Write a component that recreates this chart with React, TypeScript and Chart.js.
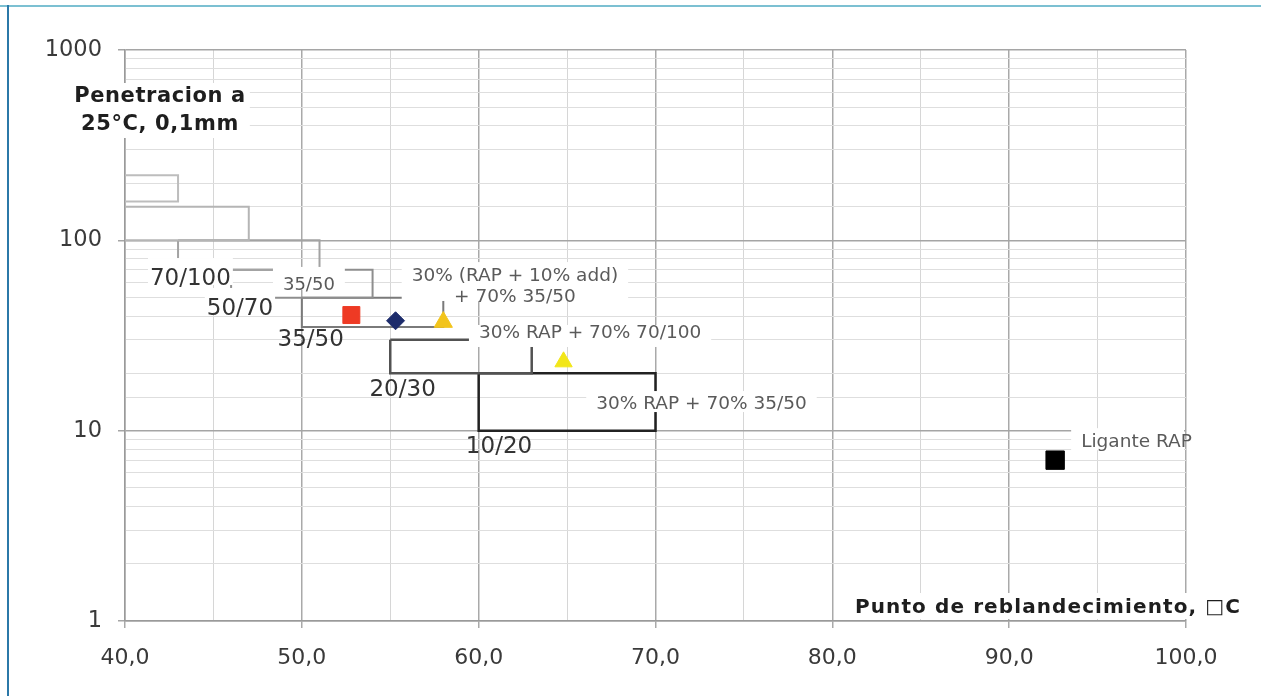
import React, { useEffect, useRef } from 'react';
import { Chart, registerables } from 'chart.js';

Chart.register(...registerables);

// ---- Data ----
const gradeNames = ['160/220', '100/150', '70/100', '50/70', '35/50', '20/30', '10/20'];
const gradeSpMin = [35, 39, 43, 46, 50, 55, 60];
const gradeSpMax = [43, 47, 51, 54, 58, 63, 70];
const gradePenMin = [160, 100, 70, 50, 35, 20, 10];
const gradePenMax = [220, 150, 100, 70, 50, 30, 20];

const sampleNames = ['Ligante 35/50', '30% RAP + 70% 35/50', '30% (RAP + 10% add) + 70% 35/50', '30% RAP + 70% 70/100', 'Ligante RAP'];
const sampleX = [52.8, 55.3, 58.0, 64.8, 92.6];
const sampleY = [40.5, 37.8, 37.2, 23.0, 7.0];

const gradeLabelText = ['70/100', '50/70', '35/50', '20/30', '10/20'];
const gradeLabelX = [43.7, 46.5, 50.5, 55.7, 61.15];
const gradeLabelY = [62.6, 43.6, 30.0, 16.35, 8.2];

const noteText = ['35/50', '30% (RAP + 10% add)', '+ 70% 35/50', '30% RAP + 70% 70/100', '30% RAP + 70% 35/50', 'Ligante RAP'];
const noteX = [50.4, 62.05, 62.05, 66.3, 72.6, 97.2];
const noteY = [58.3, 64.9, 50.4, 32.6, 13.8, 8.7];
const noteGroup = [0, 1, 1, 2, 3, 4];

const xMin = 40;
const xMax = 100;
const xStep = 5;
const yMin = 1;
const yMax = 1000;

const yTitleLines = ['Penetracion a', '25°C, 0,1mm'];
const xTitle = 'Punto de reblandecimiento, □C';

// ---- Styles ----
const FONT = '"DejaVu Sans", "Liberation Sans", Arial, sans-serif';
const gradeColors = ['#bdbdbd', '#b5b5b5', '#a3a3a3', '#8e8e8e', '#7a7a7a', '#525252', '#222222'];
const gradeWidths = [2, 2, 2, 2, 2, 2.5, 2.5];
const sampleStyles = ['rect', 'rectRot', 'triangle', 'triangle', 'rect'];
const sampleColors = ['#ee3a24', '#1c2b6b', '#f2c41c', '#f2e619', '#000000'];
const sampleRadius = [12, 9, 10.5, 10, 13];
const GRADE_LABEL_BG = [true, true, false, false, false];
// [padX, padTop, padBottom, fontSize]
const NOTE_STYLE = [
  [10, 18, 5, 18],
  [10, 14, 4, 18.5],
  [10, 14, 4, 18.5],
  [10, 8, 14, 18.5],
  [10, 13, 8, 18.5],
  [10, 14, 8, 18.5],
];

const isPow10 = (v: number) => {
  const l = Math.log10(v);
  return Math.abs(l - Math.round(l)) < 1e-9;
};

const overlayPlugin = {
  id: 'overlay',
  afterDatasetsDraw(chart: any) {
    const { ctx, chartArea } = chart;
    const xs = chart.scales.x;
    const ys = chart.scales.y;
    ctx.save();
    ctx.textAlign = 'center';
    ctx.textBaseline = 'middle';

    // grade labels
    gradeLabelText.forEach((t, i) => {
      const px = xs.getPixelForValue(gradeLabelX[i]);
      const py = ys.getPixelForValue(gradeLabelY[i]);
      ctx.font = `23px ${FONT}`;
      const w = ctx.measureText(t).width;
      if (GRADE_LABEL_BG[i]) {
        ctx.fillStyle = '#ffffff';
        ctx.fillRect(px - w / 2 - 2, py - 21, w + 4, 27);
      }
      ctx.fillStyle = '#333333';
      ctx.fillText(t, px, py);
    });

    // note backgrounds (by group)
    const boxes: Record<number, number[]> = {};
    noteText.forEach((t, i) => {
      const [padX, padT, padB, size] = NOTE_STYLE[i];
      ctx.font = `${size}px ${FONT}`;
      const w = ctx.measureText(t).width;
      const px = xs.getPixelForValue(noteX[i]);
      const py = ys.getPixelForValue(noteY[i]);
      const b = [px - w / 2 - padX, py - padT, px + w / 2 + padX, py + padB];
      const g = noteGroup[i];
      if (!boxes[g]) boxes[g] = b;
      else {
        const o = boxes[g];
        boxes[g] = [Math.min(o[0], b[0]), Math.min(o[1], b[1]), Math.max(o[2], b[2]), Math.max(o[3], b[3])];
      }
    });
    ctx.fillStyle = '#ffffff';
    Object.values(boxes).forEach((b) => {
      const r = Math.min(b[2], chartArea.right - 2);
      ctx.fillRect(b[0], b[1], r - b[0], b[3] - b[1]);
    });
    noteText.forEach((t, i) => {
      const size = NOTE_STYLE[i][3];
      ctx.font = `${size}px ${FONT}`;
      ctx.fillStyle = '#5a5a5a';
      ctx.fillText(t, xs.getPixelForValue(noteX[i]), ys.getPixelForValue(noteY[i]));
    });

    // y axis title
    ctx.font = `bold 21px ${FONT}`;
    (ctx as any).letterSpacing = '0.6px';
    const ycx = chartArea.left + 35;
    const yl1 = chartArea.top + 47;
    const yl2 = chartArea.top + 75;
    const yw = Math.max(...yTitleLines.map((t) => ctx.measureText(t).width));
    ctx.fillStyle = '#ffffff';
    ctx.fillRect(ycx - yw / 2 - 4, yl1 - 14, yw + 8, yl2 - yl1 + 27);
    ctx.fillStyle = '#1e1e1e';
    ctx.fillText(yTitleLines[0], ycx, yl1);
    ctx.fillText(yTitleLines[1], ycx, yl2);

    // x axis title
    ctx.font = `bold 20px ${FONT}`;
    (ctx as any).letterSpacing = '1.1px';
    const xw = ctx.measureText(xTitle).width;
    const xr = chartArea.right + 55;
    const xcy = chartArea.bottom - 13;
    ctx.fillStyle = '#ffffff';
    ctx.fillRect(xr - xw - 6, xcy - 15, xw + 10, 26);
    ctx.fillStyle = '#1e1e1e';
    ctx.textAlign = 'right';
    ctx.fillText(xTitle, xr, xcy);
    (ctx as any).letterSpacing = '0px';
    ctx.restore();
  },
};

export default function App() {
  const ref = useRef<HTMLCanvasElement>(null);

  useEffect(() => {
    const canvas = ref.current;
    if (!canvas) return;
    const datasets: any[] = [];
    sampleNames.forEach((n, i) => {
      datasets.push({
        label: n,
        data: [{ x: sampleX[i], y: sampleY[i] }],
        pointStyle: sampleStyles[i],
        pointRadius: sampleRadius[i],
        pointHoverRadius: sampleRadius[i],
        backgroundColor: sampleColors[i],
        borderColor: sampleColors[i],
        borderWidth: 1,
        showLine: false,
        order: 0,
      });
    });
    gradeNames.forEach((n, i) => {
      const a = gradeSpMin[i];
      const b = gradeSpMax[i];
      const lo = gradePenMin[i];
      const hi = gradePenMax[i];
      datasets.push({
        label: n,
        data: [
          { x: a, y: hi },
          { x: b, y: hi },
          { x: b, y: lo },
          { x: a, y: lo },
          { x: a, y: hi },
        ],
        showLine: true,
        borderColor: gradeColors[i],
        backgroundColor: gradeColors[i],
        borderWidth: gradeWidths[i],
        borderJoinStyle: 'miter',
        pointRadius: 0,
        pointHoverRadius: 0,
        fill: false,
        tension: 0,
        order: 1,
      });
    });

    const majorX = (c: any) => c.tick && Math.abs(c.tick.value % 10) < 1e-9;
    const majorY = (c: any) => c.tick && isPow10(c.tick.value);

    const chart = new Chart(canvas, {
      type: 'scatter',
      data: { datasets },
      plugins: [overlayPlugin],
      options: {
        responsive: false,
        animation: false,
        devicePixelRatio: 1,
        layout: { padding: { top: 50, right: 75, left: 0, bottom: 0 } },
        plugins: { legend: { display: false }, tooltip: { enabled: false } },
        scales: {
          x: {
            type: 'linear',
            min: xMin,
            max: xMax,
            afterFit: (s: any) => {
              s.height = 75;
            },
            ticks: {
              stepSize: xStep,
              autoSkip: false,
              maxRotation: 0,
              padding: 17,
              color: '#3a3a3a',
              font: { family: FONT, size: 22 },
              callback: (v: any) => (Math.abs(Number(v) % 10) < 1e-9 ? Number(v).toFixed(1).replace('.', ',') : ''),
            },
            grid: {
              color: (c: any) => (majorX(c) ? '#a9a9a9' : '#d6d6d6'),
              lineWidth: (c: any) => (majorX(c) ? 1.5 : 1),
              tickLength: 7,
              tickColor: (c: any) => (majorX(c) ? '#a9a9a9' : 'rgba(0,0,0,0)'),
            },
            border: { display: true, color: '#9a9a9a', width: 1.5 },
          },
          y: {
            type: 'logarithmic',
            min: yMin,
            max: yMax,
            afterFit: (s: any) => {
              s.width = 125;
            },
            ticks: {
              autoSkip: false,
              padding: 16,
              color: '#3a3a3a',
              font: { family: FONT, size: 22.5 },
              callback: (v: any) => (isPow10(Number(v)) ? String(Number(v)) : ''),
            },
            grid: {
              color: (c: any) => (majorY(c) ? '#a5a5a5' : '#dedede'),
              lineWidth: (c: any) => (majorY(c) ? 1.5 : 1),
              tickLength: 7,
              tickColor: (c: any) => (majorY(c) ? '#a5a5a5' : 'rgba(0,0,0,0)'),
            },
            border: { display: true, color: '#9a9a9a', width: 1.5 },
          },
        },
      } as any,
    });
    return () => chart.destroy();
  }, []);

  return (
    <div style={{ position: 'absolute', left: 0, top: 0, width: 1261, height: 696, background: '#ffffff', overflow: 'hidden' }}>
      <canvas ref={ref} width={1261} height={696} style={{ display: 'block', position: 'absolute', left: 0, top: 0 }} />
      <div style={{ position: 'absolute', left: 0, top: 5, width: 1261, height: 2, background: '#7cc0d2', pointerEvents: 'none' }} />
      <div style={{ position: 'absolute', left: 7, top: 5, width: 1.5, height: 691, background: '#2b78a8', pointerEvents: 'none' }} />
    </div>
  );
}
